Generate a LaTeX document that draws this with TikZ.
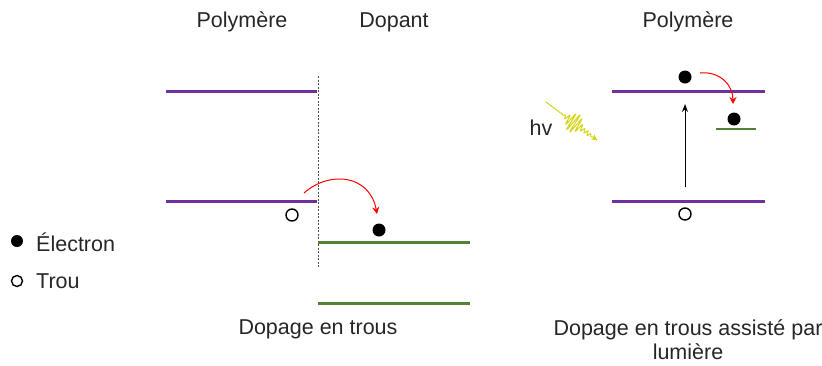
\documentclass[tikz,border=0pt]{standalone}
\usepackage{fontspec}
\setmainfont{Liberation Sans}
\usetikzlibrary{arrows.meta}
\definecolor{purp}{HTML}{7030A0}
\definecolor{grn}{HTML}{548235}
\definecolor{photon}{HTML}{D4D41A}
\begin{document}
\begin{tikzpicture}[x=1pt,y=-1pt,
  lbl/.style={font=\fontsize{21.5}{24}\selectfont, text=black!85, inner sep=0pt},
  plev/.style={draw=purp, line width=3pt},
  glev/.style={draw=grn, line width=3pt},
  elec/.style={circle, fill=black, minimum size=13pt, inner sep=0pt},
  hole/.style={circle, draw=black, line width=1.4pt, minimum size=12pt, inner sep=0pt},
  redarr/.style={draw=red, line width=1pt, -{Stealth[length=7pt,width=7pt]}},
]
\useasboundingbox (0,0) rectangle (822,365);
% titles
\node[lbl] (tp1) at (242,22) {Polymère};
\node[lbl] (td) at (394,22) {Dopant};
\node[lbl] (tp2) at (688,22) {Polymère};
% left panel
\coordinate (lt1) at (166,91); \coordinate (lt2) at (317,91);
\coordinate (lb1) at (166,201); \coordinate (lb2) at (317,201);
\draw[plev] (lt1) -- (lt2);
\draw[plev] (lb1) -- (lb2);
\coordinate (dv1) at (318,76); \coordinate (dv2) at (318,268);
\draw[black!70, dashed, dash pattern=on 2pt off 1.5pt, line width=0.8pt] (dv1) -- (dv2);
\coordinate (g1a) at (318,242); \coordinate (g1b) at (470,242);
\coordinate (g2a) at (318,303); \coordinate (g2b) at (470,303);
\draw[glev] (g1a) -- (g1b);
\draw[glev] (g2a) -- (g2b);
\node[hole] (h1) at (292,215) {};
\node[elec] (e1) at (379,230) {};
\coordinate (ra1) at (304,193); \coordinate (ra2) at (377,214);
\draw[redarr] (ra1) .. controls (330,170) and (370,175) .. (ra2);
\node[lbl] (cap1) at (318,329) {Dopage en trous};
% legend
\node[elec, minimum size=12pt] (le) at (17,241) {};
\node[lbl, anchor=west] (let) at (36,242) {Électron};
\node[hole, minimum size=11pt] (lh) at (17,281) {};
\node[lbl, anchor=west] (lht) at (36,281) {Trou};
% right panel
\coordinate (rt1) at (612,91); \coordinate (rt2) at (765,91);
\coordinate (rb1) at (612,201); \coordinate (rb2) at (765,201);
\draw[plev] (rt1) -- (rt2);
\draw[plev] (rb1) -- (rb2);
\node[elec] (e2) at (685,77) {};
\node[hole] (h2) at (685,214) {};
\coordinate (ba1) at (685,187); \coordinate (ba2) at (685,104);
\draw[black, line width=1pt, -{Stealth[length=8pt,width=6pt]}] (ba1) -- (ba2);
\coordinate (gs1) at (716,129); \coordinate (gs2) at (756,129);
\draw[glev, line width=2.5pt] (gs1) -- (gs2);
\node[elec] (e3) at (734,119) {};
\coordinate (rr1) at (700,73); \coordinate (rr2) at (733,104);
\draw[redarr] (rr1) .. controls (720,71) and (733,85) .. (rr2);
% photon
\node[lbl] (hv) at (541,128) {hv};
\draw[photon, line width=1pt, -{Stealth[length=6pt,width=6pt]}]
  plot[domain=0:64, samples=300, smooth]
  ({546+0.8*\x - 0.6*(10*exp(-((\x-35)/8)^2)+2*exp(-((\x-52)/5)^2))*sin(\x*90)},
   {102+0.6*\x + 0.8*(10*exp(-((\x-35)/8)^2)+2*exp(-((\x-52)/5)^2))*sin(\x*90)});
\node[lbl, align=center] (cap2) at (688,340) {Dopage en trous assisté par\\lumière};
\end{tikzpicture}
\end{document}
